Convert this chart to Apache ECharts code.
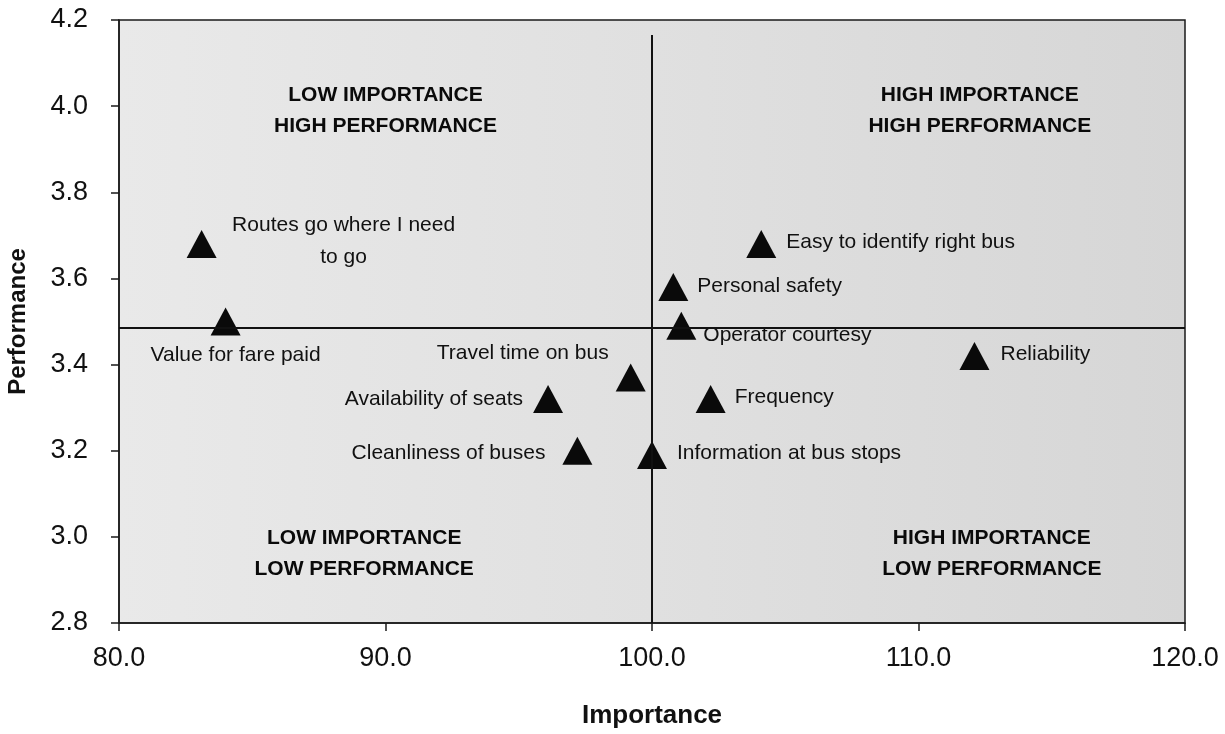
<!DOCTYPE html>
<html>
<head>
<meta charset="utf-8">
<script src="https://cdn.jsdelivr.net/npm/echarts@6/dist/echarts.min.js"></script>
<style>
  html, body { margin: 0; padding: 0; background: #fff; }
  #chart { width: 1225px; height: 734px; }
</style>
</head>
<body>
<div id="chart"></div>
<script>
// attribute data
const attributes = [
  'Routes go where I need\nto go',
  'Value for fare paid',
  'Easy to identify right bus',
  'Personal safety',
  'Operator courtesy',
  'Reliability',
  'Frequency',
  'Travel time on bus',
  'Availability of seats',
  'Cleanliness of buses',
  'Information at bus stops'
]
const importance = [83.1, 84.0, 104.1, 100.8, 101.1, 112.1, 102.2, 99.2, 96.1, 97.2, 100.0]
const performance = [3.68, 3.50, 3.68, 3.58, 3.49, 3.42, 3.32, 3.37, 3.32, 3.20, 3.19]

// quadrant dividers
const meanImportance = 100.0
const meanPerformance = 3.485
const dividerTop = 4.165

const quadrantNames = [
  'LOW IMPORTANCE\nHIGH PERFORMANCE',
  'HIGH IMPORTANCE\nHIGH PERFORMANCE',
  'LOW IMPORTANCE\nLOW PERFORMANCE',
  'HIGH IMPORTANCE\nLOW PERFORMANCE'
]
const quadrantX = [90.0, 112.3, 89.2, 112.75]
const quadrantY = [3.99, 3.99, 2.962, 2.962]

const xTicks = [80, 90, 100, 110, 120]
const yTicks = [2.8, 3.0, 3.2, 3.4, 3.6, 3.8, 4.0, 4.2]

// label placement (style only): align + offset from marker centre
const labelStyle = [
  { align: 'center', offset: [142, -3] },
  { align: 'center', offset: [10, 34] },
  { align: 'left', offset: [25, -2] },
  { align: 'left', offset: [24, -1] },
  { align: 'left', offset: [22, 9] },
  { align: 'left', offset: [26, -2] },
  { align: 'left', offset: [24, -2] },
  { align: 'right', offset: [-22, -24] },
  { align: 'right', offset: [-25, 0] },
  { align: 'right', offset: [-32, 2] },
  { align: 'left', offset: [25, -2] }
]

const font = "'Liberation Sans', Arial, Helvetica, sans-serif"

const chart = echarts.init(document.getElementById('chart'))

const option = {
  backgroundColor: '#ffffff',
  animation: false,
  grid: {
    left: 119,
    right: 40,
    top: 20,
    bottom: 111,
    outerBoundsMode: 'none',
    containLabel: false,
    show: true,
    borderColor: '#1a1a1a',
    borderWidth: 1.5,
    backgroundColor: new echarts.graphic.LinearGradient(0, 0, 1, 0, [
      { offset: 0, color: '#e9e9e9' },
      { offset: 0.5, color: '#e0e0e0' },
      { offset: 1, color: '#d6d6d6' }
    ])
  },
  xAxis: {
    type: 'value',
    min: xTicks[0],
    max: xTicks[xTicks.length - 1],
    interval: 10,
    name: 'Importance',
    nameLocation: 'middle',
    nameGap: 80,
    nameTextStyle: { fontFamily: font, fontSize: 26, fontWeight: 'bold', color: '#111' },
    axisLine: { show: true, lineStyle: { color: '#1a1a1a', width: 1.5 } },
    axisTick: { show: true, length: 8, lineStyle: { color: '#1a1a1a', width: 1.5 } },
    axisLabel: {
      margin: 22,
      fontFamily: font,
      fontSize: 27,
      color: '#111',
      formatter: v => v.toFixed(1)
    },
    splitLine: { show: false }
  },
  yAxis: {
    type: 'value',
    min: yTicks[0],
    max: yTicks[yTicks.length - 1],
    interval: 0.2,
    name: 'Performance',
    nameLocation: 'middle',
    nameGap: 89,
    nameRotate: 90,
    nameTextStyle: { fontFamily: font, fontSize: 24, fontWeight: 'bold', color: '#111' },
    axisLine: { show: true, lineStyle: { color: '#1a1a1a', width: 1.5 } },
    axisTick: { show: true, length: 8, lineStyle: { color: '#1a1a1a', width: 1.5 } },
    axisLabel: {
      margin: 31,
      fontFamily: font,
      fontSize: 27,
      color: '#111',
      formatter: v => v.toFixed(1)
    },
    splitLine: { show: false }
  },
  series: [
    {
      type: 'scatter',
      symbol: 'triangle',
      symbolSize: [30, 28],
      itemStyle: { color: '#0a0a0a', opacity: 1 },
      data: attributes.map((name, i) => ({
        name: name,
        value: [importance[i], performance[i]],
        label: {
          show: true,
          position: 'inside',
          formatter: name,
          align: labelStyle[i].align,
          verticalAlign: 'middle',
          offset: labelStyle[i].offset,
          fontFamily: font,
          fontSize: 21,
          lineHeight: 32,
          color: '#111'
        }
      })),
      markLine: {
        silent: true,
        symbol: 'none',
        label: { show: false },
        lineStyle: { color: '#111', width: 2, type: 'solid', opacity: 1 },
        data: [
          [{ coord: [xTicks[0], meanPerformance] }, { coord: [xTicks[xTicks.length - 1], meanPerformance] }],
          [{ coord: [meanImportance, yTicks[0]] }, { coord: [meanImportance, dividerTop] }]
        ]
      },
      z: 3
    },
    {
      type: 'scatter',
      symbol: 'circle',
      symbolSize: 2,
      silent: true,
      itemStyle: { color: 'rgba(0,0,0,0)', opacity: 1 },
      data: quadrantNames.map((q, i) => ({
        value: [quadrantX[i], quadrantY[i]],
        label: {
          show: true,
          position: 'inside',
          formatter: q,
          align: 'center',
          verticalAlign: 'middle',
          fontFamily: font,
          fontSize: 21,
          fontWeight: 'bold',
          lineHeight: 31,
          color: '#0a0a0a'
        }
      }))
    }
  ]
}

chart.setOption(option)
</script>
</body>
</html>
